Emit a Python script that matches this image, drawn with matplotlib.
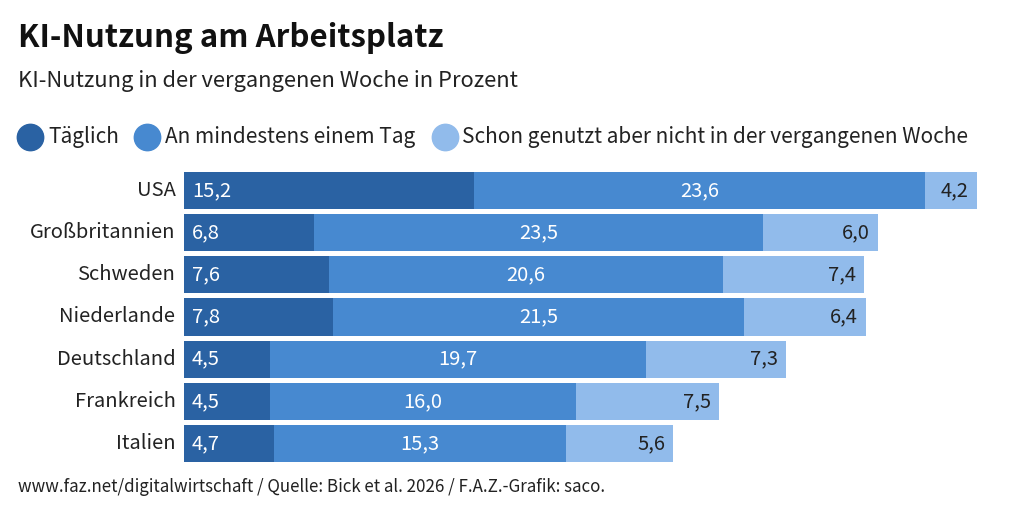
import matplotlib.pyplot as plt
from matplotlib.lines import Line2D

plt.rcParams['font.family'] = ['Noto Sans CJK SC', 'DejaVu Sans']

laender = ['USA', 'Großbritannien', 'Schweden', 'Niederlande', 'Deutschland', 'Frankreich', 'Italien']
taeglich = [15.2, 6.8, 7.6, 7.8, 4.5, 4.5, 4.7]
mindestens_ein_tag = [23.6, 23.5, 20.6, 21.5, 19.7, 16.0, 15.3]
schon_genutzt = [4.2, 6.0, 7.4, 6.4, 7.3, 7.5, 5.6]
serien = ['Täglich', 'An mindestens einem Tag', 'Schon genutzt aber nicht in der vergangenen Woche']

farben = ['#2a62a3', '#4789d0', '#91bbeb']
W, H = 1024, 517

fig = plt.figure(figsize=(W / 100, H / 100), dpi=100)
ax = fig.add_axes([184 / W, 1 - 462 / H, (977 - 184) / W, (462 - 172) / H])

y = range(len(laender))
hoehe = 0.88
links = [0] * len(laender)
for werte, farbe in zip([taeglich, mindestens_ein_tag, schon_genutzt], farben):
    ax.barh(y, werte, left=links, height=hoehe, color=farbe, linewidth=0)
    links = [a + b for a, b in zip(links, werte)]

xmax = 41.5
ax.set_xlim(0, xmax)
ax.set_ylim(len(laender) - 1 + hoehe / 2, -hoehe / 2)
ax.axis('off')

def fmt(v):
    return f'{v:.1f}'.replace('.', ',')

pad = 0.42
gr = 14.5
for i in y:
    a, b, c = taeglich[i], mindestens_ein_tag[i], schon_genutzt[i]
    ax.text(pad, i, fmt(a), color='white', fontsize=gr, ha='left', va='center')
    ax.text(a + b / 2, i, fmt(b), color='white', fontsize=gr, ha='center', va='center')
    ende = min(a + b + c, xmax)
    ax.text(ende - pad, i, fmt(c), color='#222222', fontsize=gr, ha='right', va='center')
    ax.text(-0.45, i, laender[i], color='#222222', fontsize=gr, ha='right', va='center')

fig.text(18 / W, 1 - 38 / H, 'KI-Nutzung am Arbeitsplatz', fontsize=22.5, fontweight='bold',
         color='#111111', ha='left', va='center')
fig.text(18 / W, 1 - 81 / H, 'KI-Nutzung in der vergangenen Woche in Prozent', fontsize=15.8,
         color='#222222', ha='left', va='center')

# Legende
kreis_x = [30, 147, 445]
text_x = [48, 165, 462]
for kx, tx, farbe, name in zip(kreis_x, text_x, farben, serien):
    fig.add_artist(Line2D([kx / W], [1 - 137 / H], marker='o', markersize=19,
                          color=farbe, linestyle='none', transform=fig.transFigure))
    fig.text(tx / W, 1 - 137 / H, name, fontsize=15, color='#222222', ha='left', va='center')

fig.text(18 / W, 1 - 487 / H, 'www.faz.net/digitalwirtschaft / Quelle: Bick et al. 2026 / F.A.Z.-Grafik: saco.',
         fontsize=12.2, color='#222222', ha='left', va='center')

fig.savefig('out.png', dpi=100)
